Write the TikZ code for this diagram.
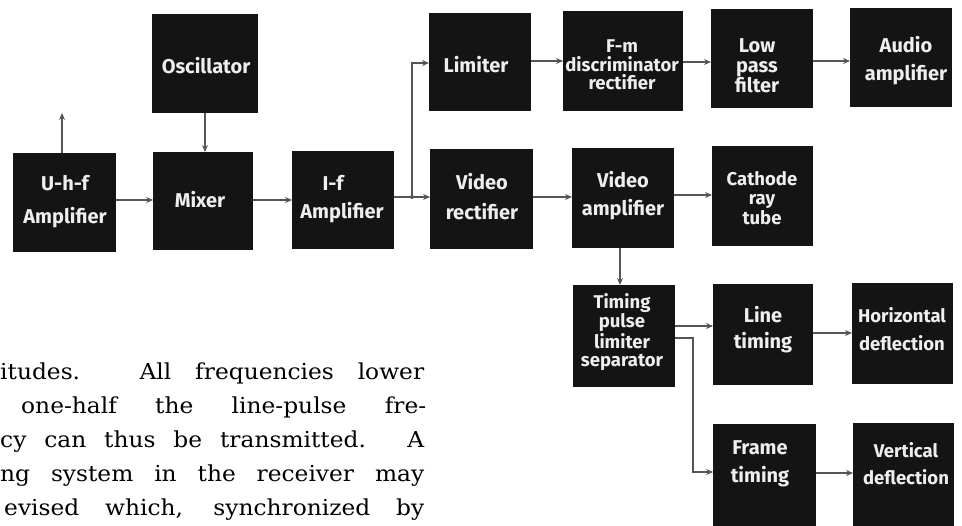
\documentclass[tikz,border=0pt]{standalone}
\usepackage{fontspec}
\setmainfont{DejaVu Serif}
\newfontfamily\bodyf{DejaVu Serif}[FakeStretch=1.06]
\newfontfamily\lett{Fira Sans}
\usetikzlibrary{arrows.meta}
\definecolor{boxc}{HTML}{141414}
\definecolor{linec}{HTML}{555555}
\definecolor{txtc}{HTML}{EEEEEE}
\begin{document}
\begin{tikzpicture}[x=1pt,y=-1pt,
  blk/.style={fill=boxc, inner sep=0pt, outer sep=0pt},
  lab/.style={text=txtc, font=\lett\bfseries\fontsize{20}{#1}\selectfont, align=center, inner sep=0pt},
  lab/.default=28,
  labs/.style={text=txtc, font=\lett\bfseries\fontsize{18.5}{#1}\selectfont, align=center, inner sep=0pt},
  labs/.default=28,
  ln/.style={draw=linec, line width=1.3pt},
  ar/.style={ln, -{Stealth[length=7pt,width=6pt,inset=2.5pt]}},
  body/.style={anchor=base west, inner sep=0pt, font=\bodyf\fontsize{22}{26}\selectfont}
]
\useasboundingbox (0,0) rectangle (962,526);
\fill[white] (0,0) rectangle (962,526);

% boxes
\node[blk, minimum width=106pt, minimum height=99pt] (osc) at (205,63.5) {};
\node[blk, minimum width=103pt, minimum height=99pt] (uhf) at (64.5,202.5) {};
\node[blk, minimum width=100pt, minimum height=98pt] (mix) at (203,201) {};
\node[blk, minimum width=102pt, minimum height=98pt] (if) at (343,200) {};
\node[blk, minimum width=102pt, minimum height=98pt] (lim) at (480,62) {};
\node[blk, minimum width=120pt, minimum height=100pt] (fm) at (623,61) {};
\node[blk, minimum width=102pt, minimum height=99pt] (lp) at (762,58.5) {};
\node[blk, minimum width=102pt, minimum height=99pt] (aud) at (901,57.5) {};
\node[blk, minimum width=103pt, minimum height=100pt] (vr) at (481.5,199) {};
\node[blk, minimum width=102pt, minimum height=100pt] (va) at (623,198) {};
\node[blk, minimum width=101pt, minimum height=100pt] (crt) at (762.5,196) {};
\node[blk, minimum width=102pt, minimum height=102pt] (tp) at (624,336) {};
\node[blk, minimum width=100pt, minimum height=101pt] (lt) at (763,334.5) {};
\node[blk, minimum width=101pt, minimum height=101pt] (hd) at (902.5,333.5) {};
\node[blk, minimum width=103pt, minimum height=104pt] (ft) at (764.5,476) {};
\node[blk, minimum width=101pt, minimum height=105pt] (vd) at (903.5,475.5) {};

% labels
\node[lab] (osc-t) at (206,66) {Oscillator};
\node[lab=33] (uhf-t) at (65,201.5) {U-h-f\\Amplifier};
\node[lab] (mix-t) at (200,200) {Mixer};
\node[lab] (if-t) at (342,199) {\hspace*{-18pt}I-f\\Amplifier};
\node[lab] (lim-t) at (476,65) {Limiter};
\node[labs=18.5] (fm-t) at (622,65) {F-m\\discriminator\\rectifier};
\node[lab=19.5] (lp-t) at (757,66) {Low\\pass\\filter};
\node[lab] (aud-t) at (906,61) {Audio\\amplifier};
\node[lab=30] (vr-t) at (482,197) {Video\\rectifier};
\node[lab] (va-t) at (623,196) {Video\\amplifier};
\node[labs=19.5] (crt-t) at (762,198) {Cathode\\ray\\tube};
\node[labs=18] (tp-t) at (622,332) {Timing\\pulse\\limiter\\separator};
\node[lab=26] (lt-t) at (763,330) {Line\\timing};
\node[labs] (hd-t) at (902,329) {Horizontal\\deflection};
\node[lab] (ft-t) at (760,464) {Frame\\timing};
\node[labs=27] (vd-t) at (906,463.5) {Vertical\\deflection};

% connectors
\coordinate (ant) at (62,113);
\draw[ar] (ant |- uhf.north) -- (ant);
\draw[ar] (osc.south) -- (osc.south |- mix.north);
\draw[ar] (uhf.east |- 0,200) -- (mix.west |- 0,200);
\draw[ar] (mix.east |- 0,200) -- (if.west |- 0,200);
\coordinate (jn) at (412,197);
\coordinate (jt) at (412,63);
\draw[ln] (if.east |- jn) -- (jn);
\draw[ar] (jn) -- (vr.west |- jn);
\draw[ar] (jn) -- (jt) -- (lim.west |- jt);
\fill[linec] (jn) circle (2pt);
\draw[ar] (lim.east |- 0,61) -- (fm.west |- 0,61);
\draw[ar] (fm.east |- 0,62) -- (lp.west |- 0,62);
\draw[ar] (lp.east |- 0,61) -- (aud.west |- 0,61);
\draw[ar] (vr.east |- 0,197) -- (va.west |- 0,197);
\draw[ar] (va.east |- 0,195) -- (crt.west |- 0,195);
\draw[ar] (620,0 |- va.south) -- (620,0 |- tp.north);
\draw[ar] (tp.east |- 0,326) -- (lt.west |- 0,326);
\coordinate (bk1) at (693,338);
\coordinate (bk2) at (693,472);
\draw[ar] (tp.east |- bk1) -- (bk1) -- (bk2) -- (ft.west |- bk2);
\draw[ar] (lt.east |- 0,333) -- (hd.west |- 0,333);
\draw[ar] (ft.east |- 0,473) -- (vd.west |- 0,473);

% running text
\node[body] (l1) at (0,380) {\makebox[424pt][s]{itudes. All frequencies lower}};
\node[body] (l2) at (21,414) {\makebox[405pt][s]{one-half the line-pulse fre-}};
\node[body] (l3) at (0,448) {\makebox[424pt][s]{cy can thus be transmitted. A}};
\node[body] (l4) at (0,482) {\makebox[424pt][s]{ng system in the receiver may}};
\node[body] (l5) at (4,516) {\makebox[420pt][s]{evised which, synchronized by}};
\end{tikzpicture}
\end{document}
